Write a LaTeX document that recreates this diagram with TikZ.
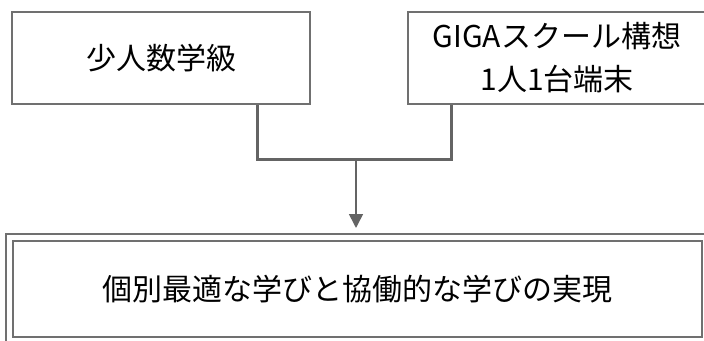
\documentclass[tikz,border=0pt]{standalone}
\usepackage{fontspec}
\setmainfont{Noto Sans CJK JP}
\usetikzlibrary{arrows.meta}
\definecolor{edge}{RGB}{112,112,112}
\definecolor{conn}{RGB}{100,100,100}
\tikzset{
  box/.style={draw=edge, line width=2.2pt, fill=white, inner sep=0pt, align=center,
    font=\fontsize{30pt}{43pt}\selectfont},
  conn/.style={draw=conn, line width=3pt},
  arr/.style={draw=conn, line width=1.6pt, -{Triangle[length=14pt,width=14pt]}}
}
\begin{document}
\begin{tikzpicture}[x=1pt,y=1pt]
\useasboundingbox (0,0) rectangle (704,-340);
% top boxes
\node[box, minimum width=298pt, minimum height=92pt] (a) at (161,-58) {少人数学級};
\node[box, minimum width=298pt, minimum height=92pt] (b) at (557,-58) {GIGAスクール構想\\1人1台端末};
% bottom double box
\draw[edge, line width=2.4pt] (6,-234) rectangle (712,-346);
\node[box, minimum width=689pt, minimum height=96pt] (c) at (357.5,-289) {個別最適な学びと協働的な学びの実現};
% connectors
\coordinate (ja) at (257,-159);
\coordinate (jb) at (451,-159);
\coordinate (j) at (356,-159);
\draw[conn] (ja |- a.south) -- (ja) -- (jb) -- (jb |- b.south);
\draw[arr] (j) -- (j |- 0,-228);
\end{tikzpicture}
\end{document}
